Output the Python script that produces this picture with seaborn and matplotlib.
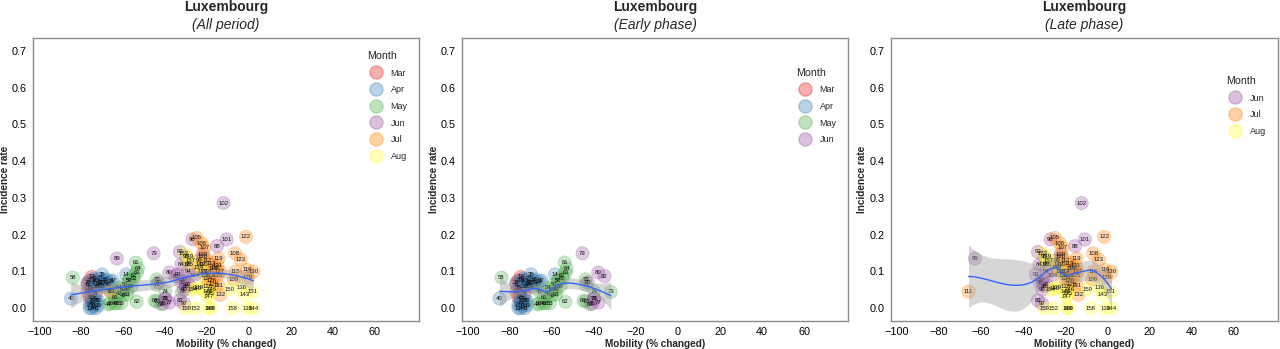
import numpy as np
import pandas as pd
import matplotlib
matplotlib.use("Agg")
import matplotlib.pyplot as plt
from matplotlib.lines import Line2D
import seaborn as sns

# day index (1 = 19 March 2020), mobility change (%), incidence rate
day = list(range(1, 161))
mobility = [
    # Mar 1-13
    -72, -74, -76, -75, -73, -77, -75, -74, -76, -73, -71, -75, -77,
    # Apr 14-43
    -58.5, -74, -75, -76, -73, -72, -70, -69, -68, -74, -76, -75, -77, -71, -70, -66,
    -67, -74, -73, -72, -75, -70, -68, -65, -76, -72, -85, -73, -71, -74,
    # May 44-74
    -67, -66, -64, -62, -60, -58, -59, -57, -55, -58, -62, -61, -66, -57, -84, -56,
    -60, -54, -53.6, -53.5, -53, -64, -63, -55, -45, -42, -44, -44, -44, -32, -40,
    # Jun 75-104
    -40, -41, -38, -40, -45.5, -38, -43, -35, -33, -32.3, -32, -30, -31, -15.3, -63,
    -31, -29, -33, -34, -29, -30, -27, -31, -29, -24, -22, -10.7, -12.2, -21, -26,
    # Jul 105-135
    -25, -22.7, -21.3, -6.7, -7.2, -22, -66, -16, -18, -20, -6.6, -1, -20, -17, -14.6,
    -22, -15, -1.5, -4, -20, -17, -18, -14, -20, -0.5, 2, -14.7, -13.8, -19, -24, -15,
    # Aug 136-160
    -3.5, -22, -0.8, -24, -25, -20, -23, -2.2, 2, -19, -18, -19.5, -19, -29, -9.3,
    1.6, -25.5, -31, -27, -29, -21, -28, -7.8, -30, -18.4,
]
incidence = [
    # Mar
    0.060, 0.070, 0.075, 0.050, 0.040, 0.065, 0.020, 0.010, 0.030, 0.075, 0.070, 0.085, 0.045,
    # Apr
    0.092, 0.005, 0.015, 0.000, 0.020, 0.065, 0.070, 0.075, 0.070, 0.025, 0.010, 0.030, 0.070,
    0.080, 0.060, 0.072, 0.065, 0.075, 0.060, 0.020, 0.000, 0.092, 0.078, 0.075, 0.055, 0.008,
    0.026, 0.000, 0.070, 0.080,
    # May
    0.010, 0.045, 0.013, 0.040, 0.035, 0.050, 0.065, 0.075, 0.080, 0.037, 0.055, 0.013, 0.013,
    0.076, 0.083, 0.060, 0.050, 0.124, 0.017, 0.097, 0.108, 0.030, 0.013, 0.088, 0.020, 0.011,
    0.019, 0.064, 0.078, 0.044, 0.046,
    # Jun
    0.025, 0.012, 0.015, 0.026, 0.149, 0.097, 0.070, 0.087, 0.021, 0.119, 0.070, 0.060, 0.075,
    0.169, 0.135, 0.050, 0.065, 0.153, 0.092, 0.100, 0.140, 0.187, 0.012, 0.120, 0.130, 0.147,
    0.187, 0.286, 0.100, 0.090,
    # Jul
    0.191, 0.177, 0.165, 0.149, 0.078, 0.120, 0.045, 0.110, 0.122, 0.100, 0.099, 0.104, 0.130,
    0.108, 0.135, 0.140, 0.115, 0.194, 0.132, 0.080, 0.065, 0.075, 0.100, 0.060, 0.083, 0.099,
    0.062, 0.036, 0.090, 0.110, 0.090,
    # Aug
    0.056, 0.100, 0.000, 0.055, 0.054, 0.044, 0.120, 0.038, 0.000, 0.040, 0.050, 0.031, 0.000,
    0.140, 0.052, 0.044, 0.000, 0.150, 0.050, 0.120, 0.090, 0.130, 0.000, 0.000, 0.000,
]
month_names = ["Mar", "Apr", "May", "Jun", "Jul", "Aug"]
month_colors = ["#E41A1C", "#377EB8", "#4DAF4A", "#984EA3", "#FF7F00", "#FFFF33"]
first_day_of_month = [1, 14, 44, 75, 105, 136]
early_last_day = 82

x_ticks = [-100, -80, -60, -40, -20, 0, 20, 40, 60]
y_ticks = [0.0, 0.1, 0.2, 0.3, 0.4, 0.5, 0.6, 0.7]


def month_of(d):
    idx = 0
    for i, start in enumerate(first_day_of_month):
        if d >= start:
            idx = i
    return month_names[idx]


def t_quantile(df):
    z = 1.959964
    return z + (z**3 + z) / (4 * df) + (5 * z**5 + 16 * z**3 + 3 * z) / (96 * df**2)


def loess(x, y, grid, span=0.75, cell=0.2):
    """Local quadratic loess with kd-tree vertices + cubic Hermite interpolation (like R)."""
    n = len(x)
    q = int(np.floor(n * span))
    fc = int(np.floor(n * span * cell))

    def local_rows(x0):
        d = np.abs(x - x0)
        h = np.sort(d)[q - 1]
        u = np.clip(d / h, 0, 1)
        w = (1 - u**3) ** 3
        X = np.column_stack([np.ones(n), x - x0, (x - x0) ** 2])
        XtW = X.T * w
        B = np.linalg.solve(XtW @ X, XtW)
        return B[0], B[1]  # operator rows for value and slope

    # kd-tree vertices in 1D
    lo_b, hi_b = x.min(), x.max()
    margin = 0.005 * (hi_b - lo_b)
    verts = {lo_b - margin, hi_b + margin}

    def split(a, b):
        pts = x[(x >= a) & (x <= b)]
        if len(pts) <= fc:
            return
        v = np.median(pts)
        if v <= a or v >= b:
            return
        verts.add(v)
        split(a, v)
        split(v, b)

    split(lo_b - margin, hi_b + margin)
    verts = np.array(sorted(verts))
    vrows = [local_rows(v) for v in verts]

    def op_row(x0):
        k = np.clip(np.searchsorted(verts, x0) - 1, 0, len(verts) - 2)
        a, b = verts[k], verts[k + 1]
        hgt = b - a
        t = (x0 - a) / hgt
        h00 = 2 * t**3 - 3 * t**2 + 1
        h10 = t**3 - 2 * t**2 + t
        h01 = -2 * t**3 + 3 * t**2
        h11 = t**3 - t**2
        va, sa = vrows[k]
        vb, sb = vrows[k + 1]
        return h00 * va + h10 * hgt * sa + h01 * vb + h11 * hgt * sb

    L = np.array([op_row(x0) for x0 in x])
    res = y - L @ y
    A = np.eye(n) - L
    M = A.T @ A
    d1 = np.trace(M)
    d2 = np.trace(M @ M)
    sigma = np.sqrt(np.sum(res**2) / d1)
    tq = t_quantile(d1**2 / d2)
    rows = np.array([op_row(x0) for x0 in grid])
    fit = rows @ y
    se = sigma * np.sqrt(np.sum(rows**2, axis=1))
    return fit, fit - tq * se, fit + tq * se


df = pd.DataFrame({"day": day, "mobility": mobility, "incidence": incidence})
df["Month"] = df["day"].apply(month_of)
palette = dict(zip(month_names, month_colors))

sns.set_style("white")
plt.rcParams["font.family"] = ["Liberation Sans", "DejaVu Sans"]

W, H = 1280, 349
fig = plt.figure(figsize=(W / 100, H / 100), dpi=100)

panels = [
    ("(All period)", df, 33, 386),
    ("(Early phase)", df[df["day"] <= early_last_day], 461.7, 386.5),
    ("(Late phase)", df[df["day"] > early_last_day], 890.7, 387),
]

for subtitle, sub, left, width in panels:
    ax = fig.add_axes([left / W, 28 / H, width / W, 283 / H])
    sns.scatterplot(data=sub, x="mobility", y="incidence", hue="Month", palette=palette,
                    s=90, alpha=0.3, edgecolor="face", linewidth=0.6, legend=False,
                    ax=ax, zorder=2)
    for _, r in sub.iterrows():
        ax.text(r["mobility"], r["incidence"], str(int(r["day"])), fontsize=4.3,
                ha="center", va="center", color="#111111", zorder=3)

    xs = sub["mobility"].to_numpy(float)
    ys = sub["incidence"].to_numpy(float)
    grid = np.linspace(xs.min(), xs.max(), 80)
    fit, lo, hi = loess(xs, ys, grid)
    ax.fill_between(grid, lo, hi, color="#999999", alpha=0.4, linewidth=0, zorder=4)
    ax.plot(grid, fit, color="#3366FF", linewidth=1.0, zorder=5)

    ax.set_xlim(-103, 81)
    ax.set_ylim(-0.035, 0.735)
    ax.set_xticks(x_ticks)
    ax.set_xticklabels([f"\u2212{abs(v)}" if v < 0 else str(v) for v in x_ticks])
    ax.set_yticks(y_ticks)
    ax.set_yticklabels([f"{v:.1f}" for v in y_ticks])
    ax.tick_params(axis="both", labelsize=7.8, length=3, width=0.8, color="#333333",
                   pad=1.5, labelcolor="black")
    for sp in ax.spines.values():
        sp.set_color("#8c8c8c")
        sp.set_linewidth(1.0)
    ax.set_xlabel("Mobility (% changed)", fontsize=7.2, fontweight="bold", labelpad=1)
    ax.set_ylabel("Incidence rate", fontsize=7.2, fontweight="bold")
    ax.yaxis.set_label_coords(-0.06, 0.5)

    present = [m for m in month_names if m in set(sub["Month"])]
    handles = [Line2D([0], [0], marker="o", linestyle="", markersize=9.5,
                      markerfacecolor=palette[m], markeredgecolor=palette[m],
                      alpha=0.35) for m in present]
    ax.legend(handles, present, title="Month", loc="center",
              bbox_to_anchor=(0.918, 0.76), frameon=False, fontsize=6.5,
              title_fontsize=7.7, alignment="left", labelspacing=0.85,
              handletextpad=0.6, borderpad=0.2)

    cx = (left + width / 2) / W
    fig.text(cx, 1 - 7 / H, "Luxembourg", ha="center", va="center", fontsize=10,
             fontweight="bold")
    fig.text(cx, 1 - 25 / H, subtitle, ha="center", va="center", fontsize=10,
             style="italic")

fig.savefig("out.png", dpi=100)
print("Saved out.png")
